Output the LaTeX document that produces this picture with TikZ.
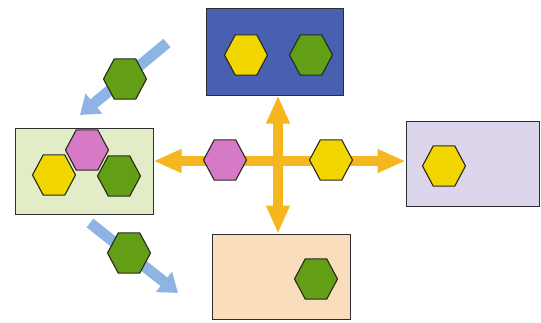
\documentclass[tikz,border=0pt]{standalone}
\usetikzlibrary{shapes.geometric,arrows.meta}
\definecolor{boxblue}{RGB}{72,96,176}
\definecolor{boxgreen}{RGB}{226,236,198}
\definecolor{boxlilac}{RGB}{221,213,236}
\definecolor{boxpeach}{RGB}{250,221,186}
\definecolor{boxline}{RGB}{45,45,50}
\definecolor{hexline}{RGB}{40,40,30}
\definecolor{hexyellow}{RGB}{242,214,0}
\definecolor{hexgreen}{RGB}{98,158,22}
\definecolor{hexpink}{RGB}{214,122,198}
\definecolor{arroworange}{RGB}{246,182,32}
\definecolor{arrowblue}{RGB}{142,180,228}
\begin{document}
\begin{tikzpicture}[x=1pt,y=-1pt,
  box/.style={draw=boxline,line width=1pt,inner sep=0pt},
  hex/.style={regular polygon,regular polygon sides=6,minimum size=43pt,inner sep=0pt,draw=hexline,line width=1.1pt,yscale=1.08,transform shape},
  flow/.style={line width=10pt,draw=arroworange,{Triangle[width=22pt,length=28pt]}-{Triangle[width=22pt,length=28pt]}},
  drift/.style={line width=11pt,draw=arrowblue,-{Triangle[width=25pt,length=18pt]}}]
\useasboundingbox (0,0) rectangle (541,322);
% boxes
\node[box,fill=boxblue,minimum width=137pt,minimum height=87pt] (top) at (274.5,51.5) {};
\node[box,fill=boxgreen,minimum width=138pt,minimum height=86pt] (left) at (84,171) {};
\node[box,fill=boxlilac,minimum width=133pt,minimum height=85pt] (right) at (472.5,163.5) {};
\node[box,fill=boxpeach,minimum width=138pt,minimum height=85pt] (bottom) at (281,276.5) {};
% orange cross
\coordinate (hub) at (278,161);
\draw[flow] (hub -| left.east) -- (hub -| right.west);
\draw[flow] (hub |- top.south) -- (hub |- bottom.north);
% blue arrows
\coordinate (outA) at (167,43); \coordinate (outB) at (80,115);
\coordinate (inA) at (90,223); \coordinate (inB) at (178,293);
\draw[drift] (outA) -- (outB);
\draw[drift] (inA) -- (inB);
% hexagons
\node[hex,fill=hexyellow] (topY) at (246,55) {}; \node[hex,fill=hexgreen] (topG) at (311,55) {};
\node[hex,fill=hexpink] (leftP) at (87,150) {};
\node[hex,fill=hexyellow] (leftY) at (54,175) {}; \node[hex,fill=hexgreen] (leftG) at (119,176) {};
\node[hex,fill=hexpink] (midP) at (225,160) {}; \node[hex,fill=hexyellow] (midY) at (331,160) {};
\node[hex,fill=hexyellow] (rightY) at (444,166) {};
\node[hex,fill=hexgreen] (bottomG) at (316,279) {};
\node[hex,fill=hexgreen] (outG) at (125,79) {}; \node[hex,fill=hexgreen] (inG) at (129,253) {};
\end{tikzpicture}
\end{document}
